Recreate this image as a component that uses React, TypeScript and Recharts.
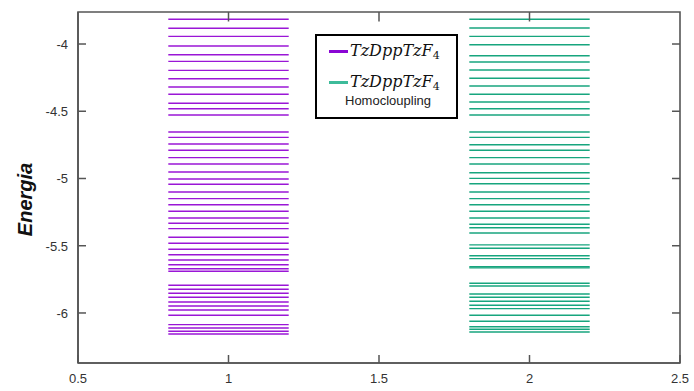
import React from 'react';
import { ComposedChart, Line, XAxis, YAxis, ReferenceArea, ReferenceLine } from 'recharts';

// energy levels (eV)
const tzLevels = [
  -3.816, -3.883, -3.943, -4.015, -4.08, -4.129, -4.196, -4.258, -4.32, -4.374,
  -4.441, -4.481, -4.528, -4.654, -4.694, -4.743, -4.79, -4.845, -4.892, -4.952,
  -5.004, -5.043, -5.1, -5.15, -5.195, -5.244, -5.294, -5.333, -5.373, -5.437,
  -5.482, -5.526, -5.567, -5.606, -5.641, -5.671, -5.69, -5.794, -5.824, -5.853,
  -5.883, -5.918, -5.948, -5.978, -6.017, -6.087, -6.112, -6.136, -6.156,
];
const homoLevels = [
  -3.816, -3.881, -3.943, -4.005, -4.087, -4.134, -4.193, -4.255, -4.312, -4.374,
  -4.431, -4.481, -4.528, -4.654, -4.694, -4.749, -4.79, -4.845, -4.892, -4.957,
  -4.999, -5.039, -5.1, -5.15, -5.195, -5.244, -5.294, -5.34, -5.366, -5.405,
  -5.494, -5.519, -5.574, -5.596, -5.656, -5.665, -5.779, -5.799, -5.859, -5.883,
  -5.913, -5.943, -5.968, -6.017, -6.062, -6.102, -6.121, -6.141,
];
const tzSpan = [0.8, 1.2];
const homoSpan = [1.8, 2.2];

const xTicks = [0.5, 1, 1.5, 2, 2.5];
const yTicks = [-6, -5.5, -5, -4.5, -4];
const xDomain = [0.5, 2.5];
const yDomain = [-6.372, -3.762];

const PURPLE = '#9a16d6';
const GREEN = '#17a57e';
const FRAME = '#555';
const LABEL = '#333';
const FONT = '"Liberation Sans", Arial, sans-serif';

// inward tick length for the top/right frame, as a share of each axis range
const TICK_FRAC_X = 0.027;
const TICK_FRAC_Y = 0.0133;
const tickDy = (yDomain[1] - yDomain[0]) * TICK_FRAC_X;
const tickDx = (xDomain[1] - xDomain[0]) * TICK_FRAC_Y;

const levelData = (span: number[], e: number) => [
  { x: span[0], e },
  { x: span[1], e },
];

const BottomTick = (props: any) => {
  const { x, y, payload } = props;
  return (
    <g>
      <line x1={x} x2={x} y1={y} y2={y - 8} stroke={FRAME} strokeWidth={1.5} />
      <text x={x} y={y + 20} textAnchor="middle" fill={LABEL} fontSize={13} fontFamily={FONT}>
        {payload.value}
      </text>
    </g>
  );
};

const LeftTick = (props: any) => {
  const { x, y, payload } = props;
  return (
    <g>
      <line x1={x} x2={x + 8} y1={y} y2={y} stroke={FRAME} strokeWidth={1.5} />
      <text x={x - 10} y={y + 5} textAnchor="end" fill={LABEL} fontSize={13} fontFamily={FONT}>
        {payload.value}
      </text>
    </g>
  );
};

const EnergiaLabel = (props: any) => {
  const vb = props.viewBox;
  const cx = vb.x + 25;
  const cy = vb.y + vb.height / 2 + 12;
  return (
    <text
      x={cx}
      y={cy}
      transform={`rotate(-90 ${cx} ${cy})`}
      textAnchor="middle"
      dominantBaseline="central"
      fontSize={20}
      fontWeight="bold"
      fontStyle="italic"
      fontFamily={FONT}
      fill="#111"
    >
      Energia
    </text>
  );
};

const Formula = () => (
  <span style={{ fontFamily: '"DejaVu Serif", serif', fontStyle: 'italic', fontSize: 16, color: '#111' }}>
    TzDppTzF
    <span style={{ fontStyle: 'normal', fontSize: 11, position: 'relative', top: 3 }}>4</span>
  </span>
);

const LegendBox = () => (
  <div
    style={{
      position: 'absolute',
      left: 315,
      top: 34,
      width: 143,
      height: 85,
      border: '2px solid #000',
      boxSizing: 'border-box',
      background: '#fff',
    }}
  >
    <div style={{ position: 'absolute', left: 12, top: 14, width: 19, height: 3, background: '#8a06d4' }} />
    <div style={{ position: 'absolute', left: 33, top: 5, lineHeight: '20px' }}>
      <Formula />
    </div>
    <div style={{ position: 'absolute', left: 12, top: 45, width: 19, height: 3, background: '#3dbb9a' }} />
    <div style={{ position: 'absolute', left: 33, top: 36, lineHeight: '20px' }}>
      <Formula />
    </div>
    <div style={{ position: 'absolute', left: 28, top: 57, fontFamily: FONT, fontSize: 13, color: '#222' }}>
      Homocloupling
    </div>
  </div>
);

export default function App() {
  return (
    <div style={{ position: 'absolute', left: 0, top: 0, width: 694, height: 391, background: '#fff' }}>
      <ComposedChart width={694} height={391} margin={{ top: 12, right: 14, bottom: 0, left: 0 }}>
        <XAxis
          dataKey="x"
          type="number"
          domain={xDomain}
          ticks={xTicks}
          interval={0}
          allowDataOverflow
          height={28}
          tickSize={0}
          tickMargin={0}
          tickLine={false}
          axisLine={{ stroke: FRAME, strokeWidth: 1.6 }}
          tick={BottomTick}
        />
        <YAxis
          type="number"
          domain={yDomain}
          ticks={yTicks}
          interval={0}
          allowDataOverflow
          width={78}
          tickSize={0}
          tickMargin={0}
          tickLine={false}
          axisLine={{ stroke: FRAME, strokeWidth: 1.6 }}
          tick={LeftTick}
          label={EnergiaLabel}
        />
        {tzLevels.map((e, i) => (
          <Line
            key={'tz' + i}
            data={levelData(tzSpan, e)}
            dataKey="e"
            stroke={PURPLE}
            strokeWidth={1.4}
            dot={false}
            activeDot={false}
            isAnimationActive={false}
          />
        ))}
        {homoLevels.map((e, i) => (
          <Line
            key={'homo' + i}
            data={levelData(homoSpan, e)}
            dataKey="e"
            stroke={GREEN}
            strokeWidth={1.4}
            dot={false}
            activeDot={false}
            isAnimationActive={false}
          />
        ))}
        {/* top and right sides of the box frame, with inward ticks */}
        <ReferenceArea
          x1={xDomain[0]}
          x2={xDomain[1]}
          y1={yDomain[0]}
          y2={yDomain[1]}
          fill="none"
          fillOpacity={0}
          stroke={FRAME}
          strokeWidth={1.6}
          ifOverflow="visible"
        />
        {xTicks.slice(1, -1).map((t) => (
          <ReferenceLine
            key={'tt' + t}
            segment={[
              { x: t, y: yDomain[1] },
              { x: t, y: yDomain[1] - tickDy },
            ]}
            stroke={FRAME}
            strokeWidth={1.5}
            ifOverflow="visible"
          />
        ))}
        {yTicks.map((t) => (
          <ReferenceLine
            key={'rt' + t}
            segment={[
              { x: xDomain[1], y: t },
              { x: xDomain[1] - tickDx, y: t },
            ]}
            stroke={FRAME}
            strokeWidth={1.5}
            ifOverflow="visible"
          />
        ))}
      </ComposedChart>
      <LegendBox />
    </div>
  );
}
